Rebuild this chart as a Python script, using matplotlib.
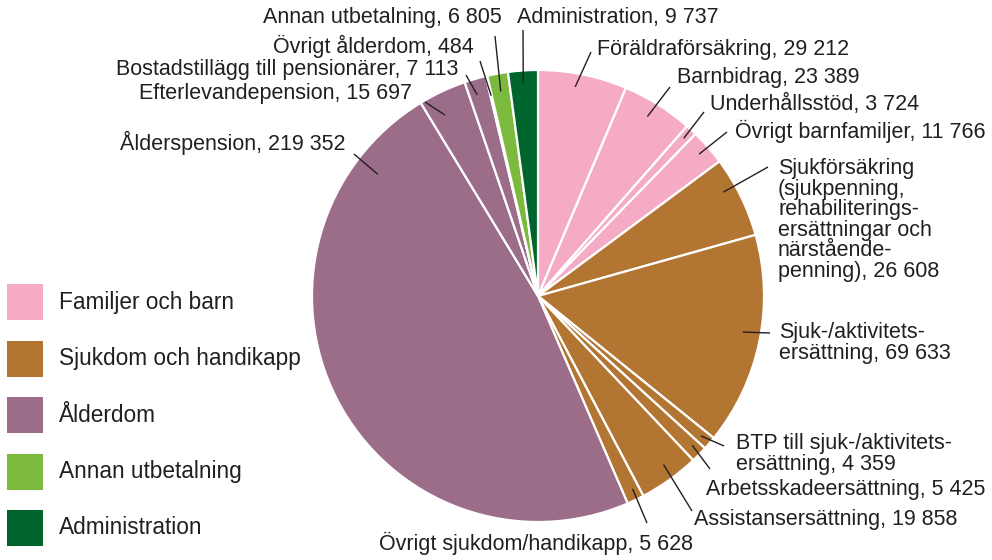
import numpy as np
import matplotlib
matplotlib.use("Agg")
import matplotlib.pyplot as plt
import matplotlib.patches as mpatches

plt.rcParams['font.family'] = ['Liberation Sans', 'DejaVu Sans']

# Utgifter (miljoner kronor)
names = ['Föräldraförsäkring', 'Barnbidrag', 'Underhållsstöd', 'Övrigt barnfamiljer',
         'Sjukförsäkring\n(sjukpenning,\nrehabiliterings-\nersättningar och\nnärstående-\npenning)',
         'Sjuk-/aktivitets-\nersättning', 'BTP till sjuk-/aktivitets-\nersättning',
         'Arbetsskadeersättning', 'Assistansersättning', 'Övrigt sjukdom/handikapp',
         'Ålderspension', 'Efterlevandepension', 'Bostadstillägg till pensionärer',
         'Övrigt ålderdom', 'Annan utbetalning', 'Administration']
values = [29212, 23389, 3724, 11766, 26608, 69633, 4359, 5425, 19858, 5628,
          219352, 15697, 7113, 484, 6805, 9737]
groups = ['fam', 'fam', 'fam', 'fam', 'sjuk', 'sjuk', 'sjuk', 'sjuk', 'sjuk', 'sjuk',
          'ald', 'ald', 'ald', 'ald', 'annan', 'adm']

group_labels = ['Familjer och barn', 'Sjukdom och handikapp', 'Ålderdom',
                'Annan utbetalning', 'Administration']
group_keys = ['fam', 'sjuk', 'ald', 'annan', 'adm']
group_colors = {'fam': '#f5abc6', 'sjuk': '#b27532', 'ald': '#9b6d89',
                'annan': '#7bba3c', 'adm': '#00652c'}

txt_color = '#231f20'
fs = 15.5

# layout: label position (pixels), alignment, leader outer end, leader inner point in wedge (t, r-fraction)
label_pos = [(597, 50, 'left'), (677, 78, 'left'), (710, 104, 'left'), (735, 131, 'left'),
             (778, 220, 'left'), (779, 343, 'left'), (736, 454, 'left'), (706, 489, 'left'),
             (694, 519, 'left'), (693, 543, 'right'), (345, 143, 'right'), (412, 93, 'right'),
             (458, 69, 'right'), (474, 46, 'right'), (502, 18, 'right'), (517, 18, 'left')]
leader_out = [(591, 52), (670, 87), (704, 112), (727, 132), (768, 167), (770, 333),
              (724, 446), (710, 469), (692, 511), (647, 523), (354, 154), (425, 102),
              (466, 75), (480, 61), (495, 36), (523, 30)]
leader_in = [(0.44, 0.94), (0.46, 0.93), (0.5, 0.95), (0.48, 0.95), (0.35, 0.94),
             (0.47, 0.92), (0.5, 0.95), (0.4, 0.95), (0.43, 0.93), (0.38, 0.95),
             (0.875, 0.89), (0.33, 0.9), (0.38, 0.93), (0.5, 0.91), (0.5, 0.92), (0.48, 0.94)]

cx, cy, radius = 538, 296, 226

fig = plt.figure(figsize=(9.92, 5.6), dpi=100)
ax = fig.add_axes([0, 0, 1, 1])

colors = [group_colors[g] for g in groups]
wedges, _ = ax.pie(values, colors=colors, startangle=-90, counterclock=True,
                   center=(cx, cy), radius=radius, frame=True,
                   wedgeprops=dict(edgecolor='white', linewidth=1.6))
ax.set_xlim(0, 992)
ax.set_ylim(560, 0)
ax.set_aspect('equal')
ax.axis('off')

for i, w in enumerate(wedges):
    t, rf = leader_in[i]
    ang = np.deg2rad(w.theta1 + t * (w.theta2 - w.theta1))
    xi = cx + rf * radius * np.cos(ang)
    yi = cy + rf * radius * np.sin(ang)
    xo, yo = leader_out[i]
    ax.plot([xo, xi], [yo, yi], color=txt_color, lw=1.0, solid_capstyle='butt')
    lx, ly, ha = label_pos[i]
    label = names[i] + ', ' + f"{values[i]:,}".replace(',', ' ')
    ax.text(lx, ly, label, ha=ha, va='center', fontsize=fs, color=txt_color,
            linespacing=0.97)

# legend (drawn by hand to get the square size and spacing)
leg_x, leg_top, box, step = 7, 284, 36, 56.5
for j, (k, l) in enumerate(zip(group_keys, group_labels)):
    y0 = leg_top + j * step
    ax.add_patch(mpatches.Rectangle((leg_x, y0), box, box, facecolor=group_colors[k],
                                    edgecolor='none'))
    ax.text(leg_x + box + 16, y0 + box / 2, l, ha='left', va='center',
            fontsize=16.3, color=txt_color)

fig.savefig('out.png', dpi=100)
